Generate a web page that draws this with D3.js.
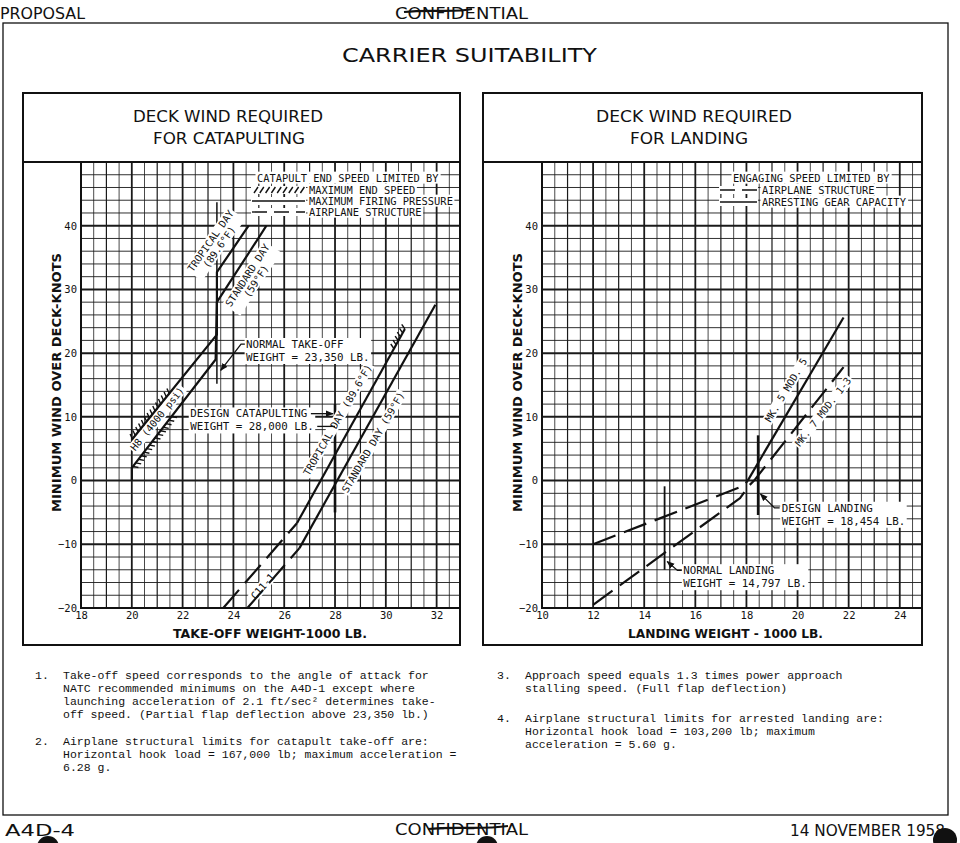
<!DOCTYPE html>
<html>
<head>
<meta charset="UTF-8">
<script src="https://cdn.jsdelivr.net/npm/d3@7/dist/d3.min.js"></script>
<style>
  body{margin:0;background:#fff;}
  svg text{fill:#111;}
  .mono{font-family:"DejaVu Sans Mono",monospace;}
  .sans{font-family:"DejaVu Sans",sans-serif;}
</style>
</head>
<body>
<script>
// ---- data ----
var catXTicks  = [18,20,22,24,26,28,30,32];
var landXTicks = [10,12,14,16,18,20,22,24];
var windTicks  = [-20,-10,0,10,20,30,40];

// catapulting: weight (1000 lb), wind (knots)
var h8Tropical       = [[20,6.4],[23.35,22.9],[23.35,32.7],[24.6,40]];
var h8Standard       = [[20,0],[20,2],[23.3,19],[23.35,28],[25.3,40]];
var c11TropicalDash  = [[23.6,-20],[26.5,-6.7]];
var c11TropicalSolid = [[26.5,-6.7],[30.75,23.8]];
var c11StandardDash  = [[24.55,-20],[26.6,-10.6]];
var c11StandardSolid = [[26.6,-10.6],[31.95,27.6]];
var catHatch = [[h8Tropical,20,21.5,-1],[h8Standard,20.02,21.6,1],[c11TropicalSolid,30.3,30.75,-1]];
var catMarkers = [[23.35,15.2,43.7,1.5],[28,-5,12,2.6]];

// landing
var mk5Dash  = [[12,-10],[17.9,-0.8],[18.05,0]];
var mk5Solid = [[18.05,0],[21.8,25.6]];
var mk7Dash  = [[12,-19.5],[17.75,-2.75],[18.1,-0.8],[18.3,0],[21.8,17.8]];
var landMarkers = [[18.454,-5.4,7.1,2.4],[14.797,-14,-0.9,1.8]];

// rotated curve labels: text lines, weight, wind, angle
var catCurveLabels = [
  [["TROPICAL DAY","(89.6°F)"],23.1,37.6,-55],
  [["STANDARD DAY","(59°F)"],24.55,32.2,-57],
  [["H8 (4000 psi)"],21.0,9.7,-51],
  [["TROPICAL DAY (89.6°F)"],28.1,9.5,-60],
  [["STANDARD DAY (59°F)"],29.5,6.0,-60],
  [["C11-1"],25.15,-16.6,-49]
];
var landCurveLabels = [
  [["MK. 5 MOD. 5"],19.55,14.2,-59],
  [["MK. 7 MOD. 1-3"],21.0,10.8,-52]
];
var catNotes = [
  ["NORMAL TAKE-OFF","WEIGHT = 23,350 LB."],
  ["DESIGN CATAPULTING","WEIGHT = 28,000 LB."]
];
var landNotes = [
  ["DESIGN LANDING","WEIGHT = 18,454 LB."],
  ["NORMAL LANDING","WEIGHT = 14,797 LB."]
];

var svg = d3.select("body").append("svg").attr("width",960).attr("height",843);
svg.append("rect").attr("width",960).attr("height",843).attr("fill","#fff");
svg.append("defs").append("marker").attr("id","arr").attr("viewBox","0 0 10 10")
   .attr("refX",9).attr("refY",5).attr("markerWidth",6).attr("markerHeight",6).attr("orient","auto")
   .append("path").attr("d","M0,1 L10,5 L0,9 z").attr("fill","#111");

var yWind = d3.scaleLinear().domain([-20,50]).range([608,162]);
var xCat  = d3.scaleLinear().domain([18,32.92]).range([81,460]);
var xLand = d3.scaleLinear().domain([10,24.87]).range([542,922]);

// page frame, header, footer
svg.append("rect").attr("x",3).attr("y",23).attr("width",945).attr("height",792)
   .attr("fill","none").attr("stroke","#111").attr("stroke-width",1.3);
function label(t,x,y,size,len,cls){
  return svg.append("text").attr("class",cls||"sans").attr("x",x).attr("y",y)
     .attr("font-size",size).attr("textLength",len).attr("lengthAdjust","spacingAndGlyphs").text(t);
}
label("PROPOSAL",0,19,15,85);
label("CONFIDENTIAL",395,19,15,133);
svg.append("path").attr("d","M404,12 C430,9 455,13 472,9").attr("stroke","#111").attr("stroke-width",2.2).attr("fill","none");
label("CARRIER SUITABILITY",342,62,19,255);
label("A4D-4",5,836,16,70);
label("CONFIDENTIAL",395,835,15,133);
svg.append("path").attr("d","M428,829 C455,826 480,830 508,826").attr("stroke","#111").attr("stroke-width",2.2).attr("fill","none");
label("14 NOVEMBER 1958",790,836,16,155);
[[48,847,11],[487,847,11],[945,840,12]].forEach(function(c){
  svg.append("circle").attr("cx",c[0]).attr("cy",c[1]).attr("r",c[2]).attr("fill","#111");
});

function interp(s,xv){
  for(var i=0;i<s.length-1;i++){
    var a=s[i],b=s[i+1];
    if(b[0]>a[0] && xv>=a[0] && xv<=b[0]) return a[1]+(b[1]-a[1])*(xv-a[0])/(b[0]-a[0]);
  }
  return s[0][1];
}
function hatch(g,p0,p1,side){
  var dx=p1[0]-p0[0],dy=p1[1]-p0[1],L=Math.hypot(dx,dy),ux=dx/L,uy=dy/L,nx=-uy*side,ny=ux*side;
  for(var s=1;s<L;s+=4.5){
    var px=p0[0]+ux*s,py=p0[1]+uy*s;
    g.append("line").attr("x1",px).attr("y1",py).attr("x2",px+nx*5+ux*2.5).attr("y2",py+ny*5+uy*2.5)
     .attr("stroke","#111").attr("stroke-width",1.4);
  }
}
// text on a white patch, so the grid breaks behind it as on the sheet
function boxedText(g,tr,lines,size,anchor,lineH,first){
  var grp=g.append("g").attr("transform",tr);
  var t=grp.append("text").attr("class","mono").attr("font-size",size).attr("text-anchor",anchor||"start");
  lines.forEach(function(s,i){ t.append("tspan").attr("x",0).attr("dy",i?lineH:(first||"0.35em")).text(s); });
  var b=t.node().getBBox();
  grp.insert("rect","text").attr("x",b.x-1.5).attr("y",b.y).attr("width",b.width+3).attr("height",b.height)
     .attr("fill","#fff");
  return grp;
}

function drawPanel(x,o){
  var g=svg.append("g");
  var left=x.range()[0],right=x.range()[1],top=yWind.range()[1],bot=yWind.range()[0];
  g.append("rect").attr("x",o.boxLeft).attr("y",93).attr("width",right-o.boxLeft).attr("height",552)
   .attr("fill","#fff").attr("stroke","#111").attr("stroke-width",2);
  g.append("line").attr("x1",o.boxLeft).attr("x2",right).attr("y1",top).attr("y2",top)
   .attr("stroke","#111").attr("stroke-width",2);
  o.titles.forEach(function(t){
    g.append("text").attr("class","sans").attr("x",t[1]).attr("y",t[2]).attr("font-size",15)
     .attr("textLength",t[3]).attr("lengthAdjust","spacingAndGlyphs").text(t[0]);
  });
  // graph-paper grid
  var vx=d3.range(x.domain()[0],x.domain()[1],0.5);
  g.append("g").selectAll("line").data(vx).join("line")
   .attr("x1",function(d){return x(d);}).attr("x2",function(d){return x(d);})
   .attr("y1",top).attr("y2",bot).attr("stroke","#1a1a1a")
   .attr("stroke-width",function(d){return d%2===0?1.8:(d%1===0?1.2:0.8);});
  g.append("g").selectAll("line").data(d3.range(-20,51,2)).join("line")
   .attr("x1",left).attr("x2",right)
   .attr("y1",function(d){return yWind(d);}).attr("y2",function(d){return yWind(d);})
   .attr("stroke","#1a1a1a").attr("stroke-width",function(d){return d%10===0?2:0.9;});
  g.append("rect").attr("x",left).attr("y",top).attr("width",right-left).attr("height",bot-top)
   .attr("fill","none").attr("stroke","#111").attr("stroke-width",2);
  var ax=g.append("g").attr("transform","translate(0,"+bot+")")
    .call(d3.axisBottom(x).tickValues(o.xTicks).tickSize(0).tickPadding(4));
  var ay=g.append("g").attr("transform","translate("+(left-3)+",0)")
    .call(d3.axisLeft(yWind).tickValues(windTicks).tickSize(0).tickPadding(1));
  [ax,ay].forEach(function(a){
    a.select(".domain").remove();
    a.selectAll("text").attr("font-size",10.5).style("font-family","'DejaVu Sans Mono',monospace").attr("fill","#111");
  });
  g.append("text").attr("class","sans").attr("font-weight","bold").attr("font-size",12.5)
   .attr("x",o.xTitle[1]).attr("y",638).attr("textLength",o.xTitle[2]).attr("lengthAdjust","spacingAndGlyphs").text(o.xTitle[0]);
  g.append("text").attr("class","sans").attr("font-weight","bold").attr("font-size",12.5)
   .attr("transform","translate("+(left-20)+",512) rotate(-90)")
   .attr("textLength",259).attr("lengthAdjust","spacingAndGlyphs").text("MINIMUM WIND OVER DECK-KNOTS");
  return g;
}
function curveLabels(g,x,list){
  list.forEach(function(c){
    boxedText(g,"translate("+x(c[1])+","+yWind(c[2])+") rotate("+c[3]+")",c[0],10,"middle","1.05em");
  });
}
function lineOf(x){ return d3.line().x(function(d){return x(d[0]);}).y(function(d){return yWind(d[1]);}); }
function curve(g,x,s,dashed,w){
  g.append("path").datum(s).attr("d",lineOf(x)).attr("fill","none").attr("stroke","#111")
   .attr("stroke-width",w||2.2).attr("stroke-dasharray",dashed?"24,9":null).attr("stroke-linejoin","round");
}
function marker(g,x,m){
  g.append("line").attr("x1",x(m[0])).attr("x2",x(m[0])).attr("y1",yWind(m[1])).attr("y2",yWind(m[2]))
   .attr("stroke","#111").attr("stroke-width",m[3]);
}
function note(g,lines,px,py){
  boxedText(g,"translate("+px+","+py+")",lines,10.8,"start",13);
}
function leader(g,pts){
  g.append("path").attr("d",d3.line()(pts)).attr("fill","none").attr("stroke","#111")
   .attr("stroke-width",1.3).attr("marker-end","url(#arr)");
}
function legend(g,title,tx,rows,sx0,sx1,textX){
  boxedText(g,"translate("+tx+",178)",[title],10.4,"start",0);
  rows.forEach(function(r){
    boxedText(g,"translate("+textX+","+r[1]+")",[r[0]],10.4,"start",0);
    g.append("rect").attr("x",sx0-1).attr("y",r[1]-4).attr("width",sx1-sx0+2).attr("height",8).attr("fill","#fff");
    if(r[2]==="hatch"){
      for(var i=0;i*5.8<sx1-sx0-4;i++) g.append("line").attr("x1",sx0+2+i*5.8).attr("x2",sx0+6+i*5.8)
        .attr("y1",r[1]+3).attr("y2",r[1]-3).attr("stroke","#111").attr("stroke-width",1.4);
    } else {
      g.append("line").attr("x1",sx0).attr("x2",sx1).attr("y1",r[1]).attr("y2",r[1]).attr("stroke","#111")
        .attr("stroke-width",1.4).attr("stroke-dasharray",r[2]==="dash"?"15,7":null);
    }
  });
}

// ---- catapulting panel ----
var gc=drawPanel(xCat,{boxLeft:23,xTicks:catXTicks,
  titles:[["DECK WIND REQUIRED",133,122,190],["FOR CATAPULTING",153,144,152]],
  xTitle:["TAKE-OFF WEIGHT-1000 LB.",173,194]});
catMarkers.forEach(function(m){marker(gc,xCat,m);});
legend(gc,"CATAPULT END SPEED LIMITED BY",257,
  [["MAXIMUM END SPEED",190,"hatch"],["MAXIMUM FIRING PRESSURE",201,"solid"],["AIRPLANE STRUCTURE",212,"dash"]],
  252,305,309);
curveLabels(gc,xCat,catCurveLabels);
note(gc,catNotes[0],xCat(24.5),yWind(21.4));
note(gc,catNotes[1],xCat(22.3),yWind(10.5));
[h8Tropical,h8Standard,c11TropicalSolid,c11StandardSolid].forEach(function(s){curve(gc,xCat,s,false);});
[c11TropicalDash,c11StandardDash].forEach(function(s){curve(gc,xCat,s,true);});
catHatch.forEach(function(h){
  hatch(gc,[xCat(h[1]),yWind(interp(h[0],h[1]))],[xCat(h[2]),yWind(interp(h[0],h[2]))],h[3]);
});
leader(gc,[[xCat(24.45),yWind(21.4)],[xCat(24.3),yWind(21.4)],[xCat(23.5),yWind(17.3)]]);
leader(gc,[[xCat(27.05),yWind(10.5)],[xCat(27.92),yWind(10.5)]]);
gc.append("line").attr("x1",xCat(27.3)).attr("x2",xCat(28)).attr("y1",yWind(8.5)).attr("y2",yWind(8.5))
  .attr("stroke","#111").attr("stroke-width",1.3);

// ---- landing panel ----
var gl=drawPanel(xLand,{boxLeft:483,xTicks:landXTicks,
  titles:[["DECK WIND REQUIRED",596,122,196],["FOR LANDING",630,144,118]],
  xTitle:["LANDING WEIGHT - 1000 LB.",628,195]});
landMarkers.forEach(function(m){marker(gl,xLand,m);});
legend(gl,"ENGAGING SPEED LIMITED BY",733,
  [["AIRPLANE STRUCTURE",190,"dash"],["ARRESTING GEAR CAPACITY",202,"solid"]],720,757,762);
curveLabels(gl,xLand,landCurveLabels);
note(gl,landNotes[0],xLand(19.38),yWind(-4.3));
note(gl,landNotes[1],xLand(15.53),yWind(-14.1));
curve(gl,xLand,mk5Dash,true);
curve(gl,xLand,mk5Solid,false);
curve(gl,xLand,mk7Dash,true);
leader(gl,[[xLand(19.3),yWind(-4.3)],[xLand(19.1),yWind(-4.3)],[xLand(18.55),yWind(-2.1)]]);
leader(gl,[[xLand(15.47),yWind(-14.1)],[xLand(15.3),yWind(-14.1)],[xLand(14.9),yWind(-12.7)]]);

// ---- typed notes ----
var notes = [
  [35,63,675,"1.",["Take-off speed corresponds to the angle of attack for",
                   "NATC recommended minimums on the A4D-1 except where",
                   "launching acceleration of 2.1 ft/sec² determines take-",
                   "off speed.  (Partial flap deflection above 23,350 lb.)"]],
  [35,63,741,"2.",["Airplane structural limits for catapult take-off are:",
                   "Horizontal hook load = 167,000 lb; maximum acceleration =",
                   "6.28 g."]],
  [497,525,675,"3.",["Approach speed equals 1.3 times power approach",
                     "stalling speed.  (Full flap deflection)"]],
  [497,525,718,"4.",["Airplane structural limits for arrested landing are:",
                     "Horizontal hook load = 103,200 lb; maximum",
                     "acceleration = 5.60 g."]]
];
notes.forEach(function(n){
  var t=svg.append("text").attr("font-family","'Liberation Mono',monospace").attr("font-size",11.5).attr("fill","#333");
  t.append("tspan").attr("x",n[0]).attr("y",n[2]+4).text(n[3]);
  n[4].forEach(function(s,i){ t.append("tspan").attr("x",n[1]).attr("y",n[2]+4+i*13).text(s); });
});
</script>
</body>
</html>
